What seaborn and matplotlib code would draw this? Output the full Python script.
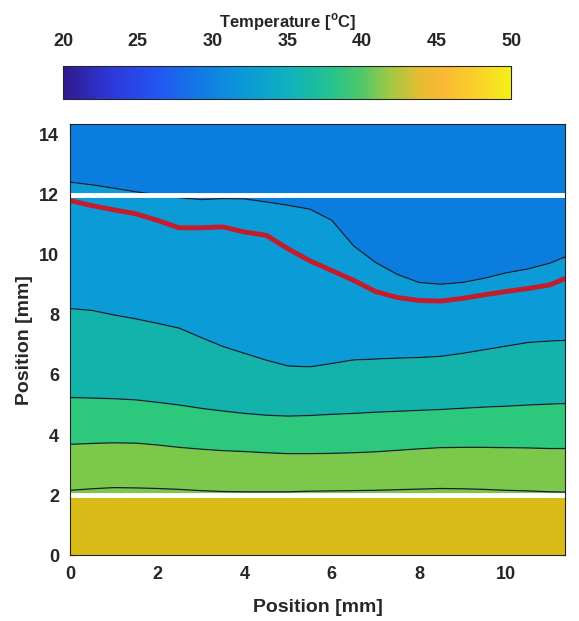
import numpy as np
import matplotlib
matplotlib.use("Agg")
import matplotlib.pyplot as plt
import seaborn as sns
from matplotlib.colors import LinearSegmentedColormap, Normalize
from matplotlib.cm import ScalarMappable

# sample positions along x [mm]
x_pos = [0, 0.5, 1, 1.5, 2, 2.5, 3, 3.5, 4, 4.5, 5, 5.5, 6, 6.5, 7, 7.5,
         8, 8.5, 9, 9.5, 10, 10.5, 11, 11.35]

# isotherm positions [mm], top to bottom
iso_1 = [12.42, 12.33, 12.22, 12.1, 12.0, 11.9, 11.84, 11.87, 11.86, 11.76, 11.65, 11.52,
         11.15, 10.3, 9.75, 9.35, 9.08, 9.02, 9.08, 9.22, 9.4, 9.53, 9.72, 9.93]
iso_2 = [8.21, 8.15, 8.0, 7.87, 7.72, 7.56, 7.25, 6.95, 6.72, 6.49, 6.3, 6.27,
         6.38, 6.5, 6.53, 6.56, 6.58, 6.62, 6.72, 6.84, 6.96, 7.08, 7.13, 7.15]
iso_3 = [5.25, 5.23, 5.21, 5.17, 5.09, 5.0, 4.89, 4.8, 4.72, 4.66, 4.63, 4.65,
         4.69, 4.72, 4.76, 4.79, 4.82, 4.85, 4.89, 4.93, 4.96, 5.0, 5.03, 5.05]
iso_4 = [3.69, 3.72, 3.74, 3.73, 3.67, 3.59, 3.53, 3.48, 3.45, 3.41, 3.38, 3.38,
         3.39, 3.41, 3.44, 3.49, 3.54, 3.58, 3.59, 3.59, 3.58, 3.57, 3.55, 3.55]
iso_5 = [2.16, 2.21, 2.25, 2.24, 2.22, 2.19, 2.15, 2.12, 2.11, 2.11, 2.11, 2.13,
         2.14, 2.15, 2.16, 2.18, 2.2, 2.22, 2.21, 2.19, 2.16, 2.14, 2.11, 2.1]

# red front line [mm]
front = [11.81, 11.64, 11.5, 11.37, 11.15, 10.9, 10.9, 10.93, 10.76, 10.65, 10.2, 9.8,
         9.48, 9.15, 8.78, 8.58, 8.48, 8.46, 8.55, 8.67, 8.78, 8.88, 9.0, 9.21]

# white boundaries [mm]
walls = [12, 2]

# colorbar
t_min, t_max = 20, 50
cbar_ticks = [20, 25, 30, 35, 40, 45, 50]

x_max, y_max = 11.35, 14.35
band_colors = ["#0a7dde", "#0b9bd6", "#13b2ab", "#2cc87c", "#7bc84a", "#d8bb17"]

cmap_anchors = [(20, "#2f1a8c"), (23, "#2e36d8"), (26, "#2552f2"), (29, "#1278e6"),
                (32, "#0b98d8"), (35, "#0fb0c0"), (38, "#25c38e"), (40, "#50c868"),
                (42, "#a4c842"), (44, "#e8bc30"), (45.5, "#fbb834"), (48, "#f8d428"),
                (50, "#f5f018")]


def make_cmap():
    pts = [((t - t_min) / (t_max - t_min), c) for t, c in cmap_anchors]
    return LinearSegmentedColormap.from_list("parula_like", pts)


def main():
    sns.set_theme(style="ticks")
    plt.rcParams["font.family"] = ["Liberation Sans", "DejaVu Sans"]
    plt.rcParams["font.weight"] = "bold"
    plt.rcParams["axes.labelweight"] = "bold"

    fig = plt.figure(figsize=(5.79, 6.21), dpi=100)
    ax = fig.add_axes([0.121, 0.106, 0.855, 0.694])

    x = np.array(x_pos)
    bounds = [np.full_like(x, y_max), iso_1, iso_2, iso_3, iso_4, walls[1], 0]
    for i, c in enumerate(band_colors):
        ax.fill_between(x, bounds[i + 1], bounds[i], color=c, lw=0)
    for iso in [iso_1, iso_2, iso_3, iso_4, iso_5]:
        ax.plot(x, iso, color="#15202a", lw=0.9)

    for w in walls:
        ax.axhline(w, color="white", lw=3.5)

    sns.lineplot(x=x_pos, y=front, color="#c41c2a", lw=3.5, sort=False, ax=ax)

    ax.set_xlim(0, x_max)
    ax.set_ylim(0, y_max)
    ax.set_xticks([0, 2, 4, 6, 8, 10])
    ax.set_yticks([0, 2, 4, 6, 8, 10, 12, 14])
    ax.tick_params(direction="in", top=True, right=True, labelsize=13, length=4,
                   width=0.8, color="#333333", pad=8)
    for s in ax.spines.values():
        s.set_color("#222222")
        s.set_linewidth(0.8)
    ax.set_xlabel("Position [mm]", fontsize=14, labelpad=11)
    ax.set_ylabel("Position [mm]", fontsize=14, labelpad=4)

    cax = fig.add_axes([0.109, 0.841, 0.774, 0.052])
    sm = ScalarMappable(norm=Normalize(t_min, t_max), cmap=make_cmap())
    cb = fig.colorbar(sm, cax=cax, orientation="horizontal", ticklocation="top")
    cb.set_ticks(cbar_ticks)
    cb.ax.tick_params(direction="in", labelsize=13, length=3, width=0.8, pad=12)
    cb.outline.set_linewidth(0.8)
    cb.set_label("Temperature [$^\\mathregular{o}$C]", fontsize=12, labelpad=4)

    fig.savefig("out.png", dpi=100)


if __name__ == "__main__":
    main()
